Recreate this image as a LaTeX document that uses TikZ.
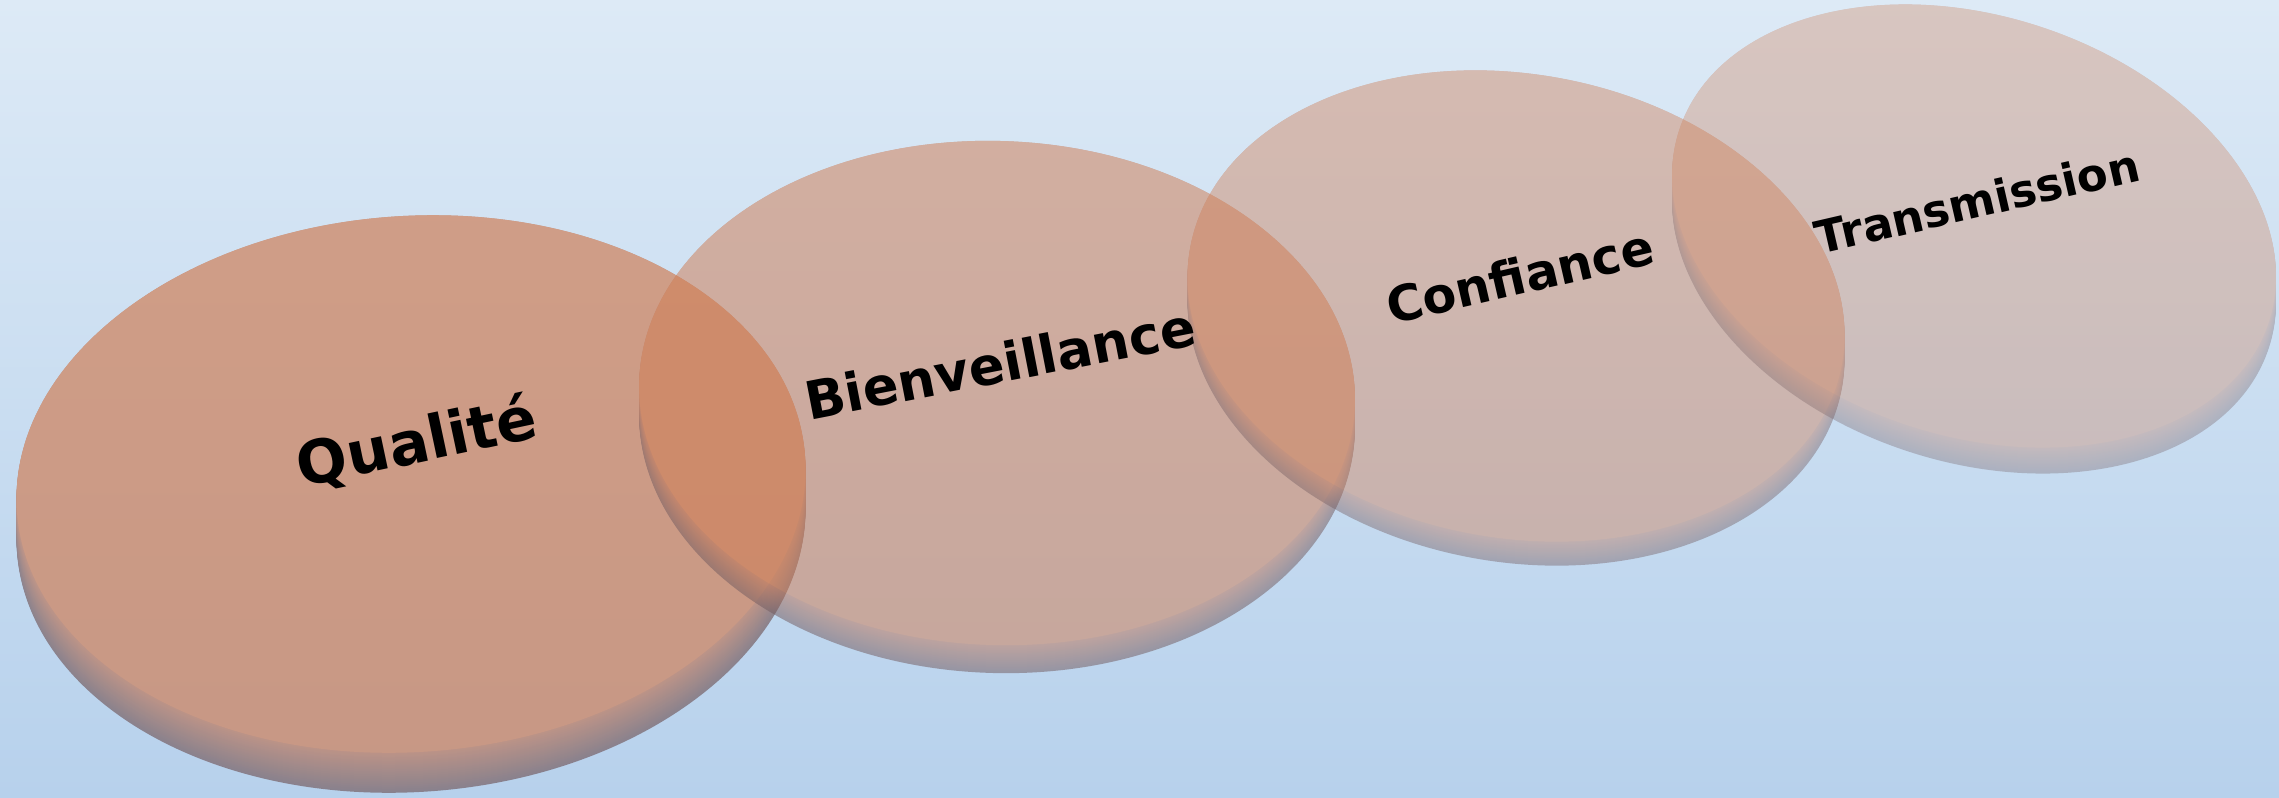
\documentclass[tikz,border=0pt]{standalone}
\usepackage{fontspec}
\setmainfont{DejaVu Sans}
\usetikzlibrary{calc}
\definecolor{skytop}{RGB}{221,234,246}
\definecolor{skybottom}{RGB}{183,209,236}
\definecolor{discface}{RGB}{207,125,84}
\definecolor{rimlight}{RGB}{190,118,88}
\definecolor{rimdark}{RGB}{116,92,96}
\tikzset{disctext/.style={text=black, inner sep=0pt}}
\def\disc(#1,#2)(#3:#4:#5)(#6:#7){%
	\begin{scope}[transparency group, opacity=#7]
		\foreach \k in {#6,...,0}{
			\pgfmathtruncatemacro\mix{100-100*\k/#6}
			\fill[rimlight!\mix!rimdark, rotate around={#5:(#1,#2+\k)}] (#1,#2+\k) ellipse [x radius=#3, y radius=#4];
		}
		\fill[discface, rotate around={#5:(#1,#2)}] (#1,#2) ellipse [x radius=#3, y radius=#4];
	\end{scope}}

\begin{document}
\begin{tikzpicture}[x=0.01cm, y=-0.01cm]
			%%%%% START %%%%%
			
			\useasboundingbox (0,0) rectangle (2279,797);
			\clip (0,0) rectangle (2279,797);
			\shade[top color=skytop, bottom color=skybottom] (0,0) rectangle (2279,797);
			
			\disc(411,484)(395:268:4)(40:0.68)
			\disc(997,393)(358:252:-2)(28:0.52)
			\disc(1516,306)(331:232:-10)(24:0.42)
			\disc(1974,226)(310:210:-18)(26:0.33)
			
			\node[disctext, rotate=12, font=\bfseries\fontsize{17}{20}\selectfont] (qualite) at (417,443) {Qualité};
			\node[disctext, rotate=11, font=\bfseries\fontsize{15}{18}\selectfont] (bienv) at (1000,363) {Bienveillance};
			\node[disctext, rotate=13, font=\bfseries\fontsize{14}{17}\selectfont] (confiance) at (1520,276) {Confiance};
			\node[disctext, rotate=13, font=\bfseries\fontsize{12.8}{15}\selectfont] (transm) at (1977,201) {Transmission};
			
			%%%%% END %%%%%
		\end{tikzpicture}
\end{document}
